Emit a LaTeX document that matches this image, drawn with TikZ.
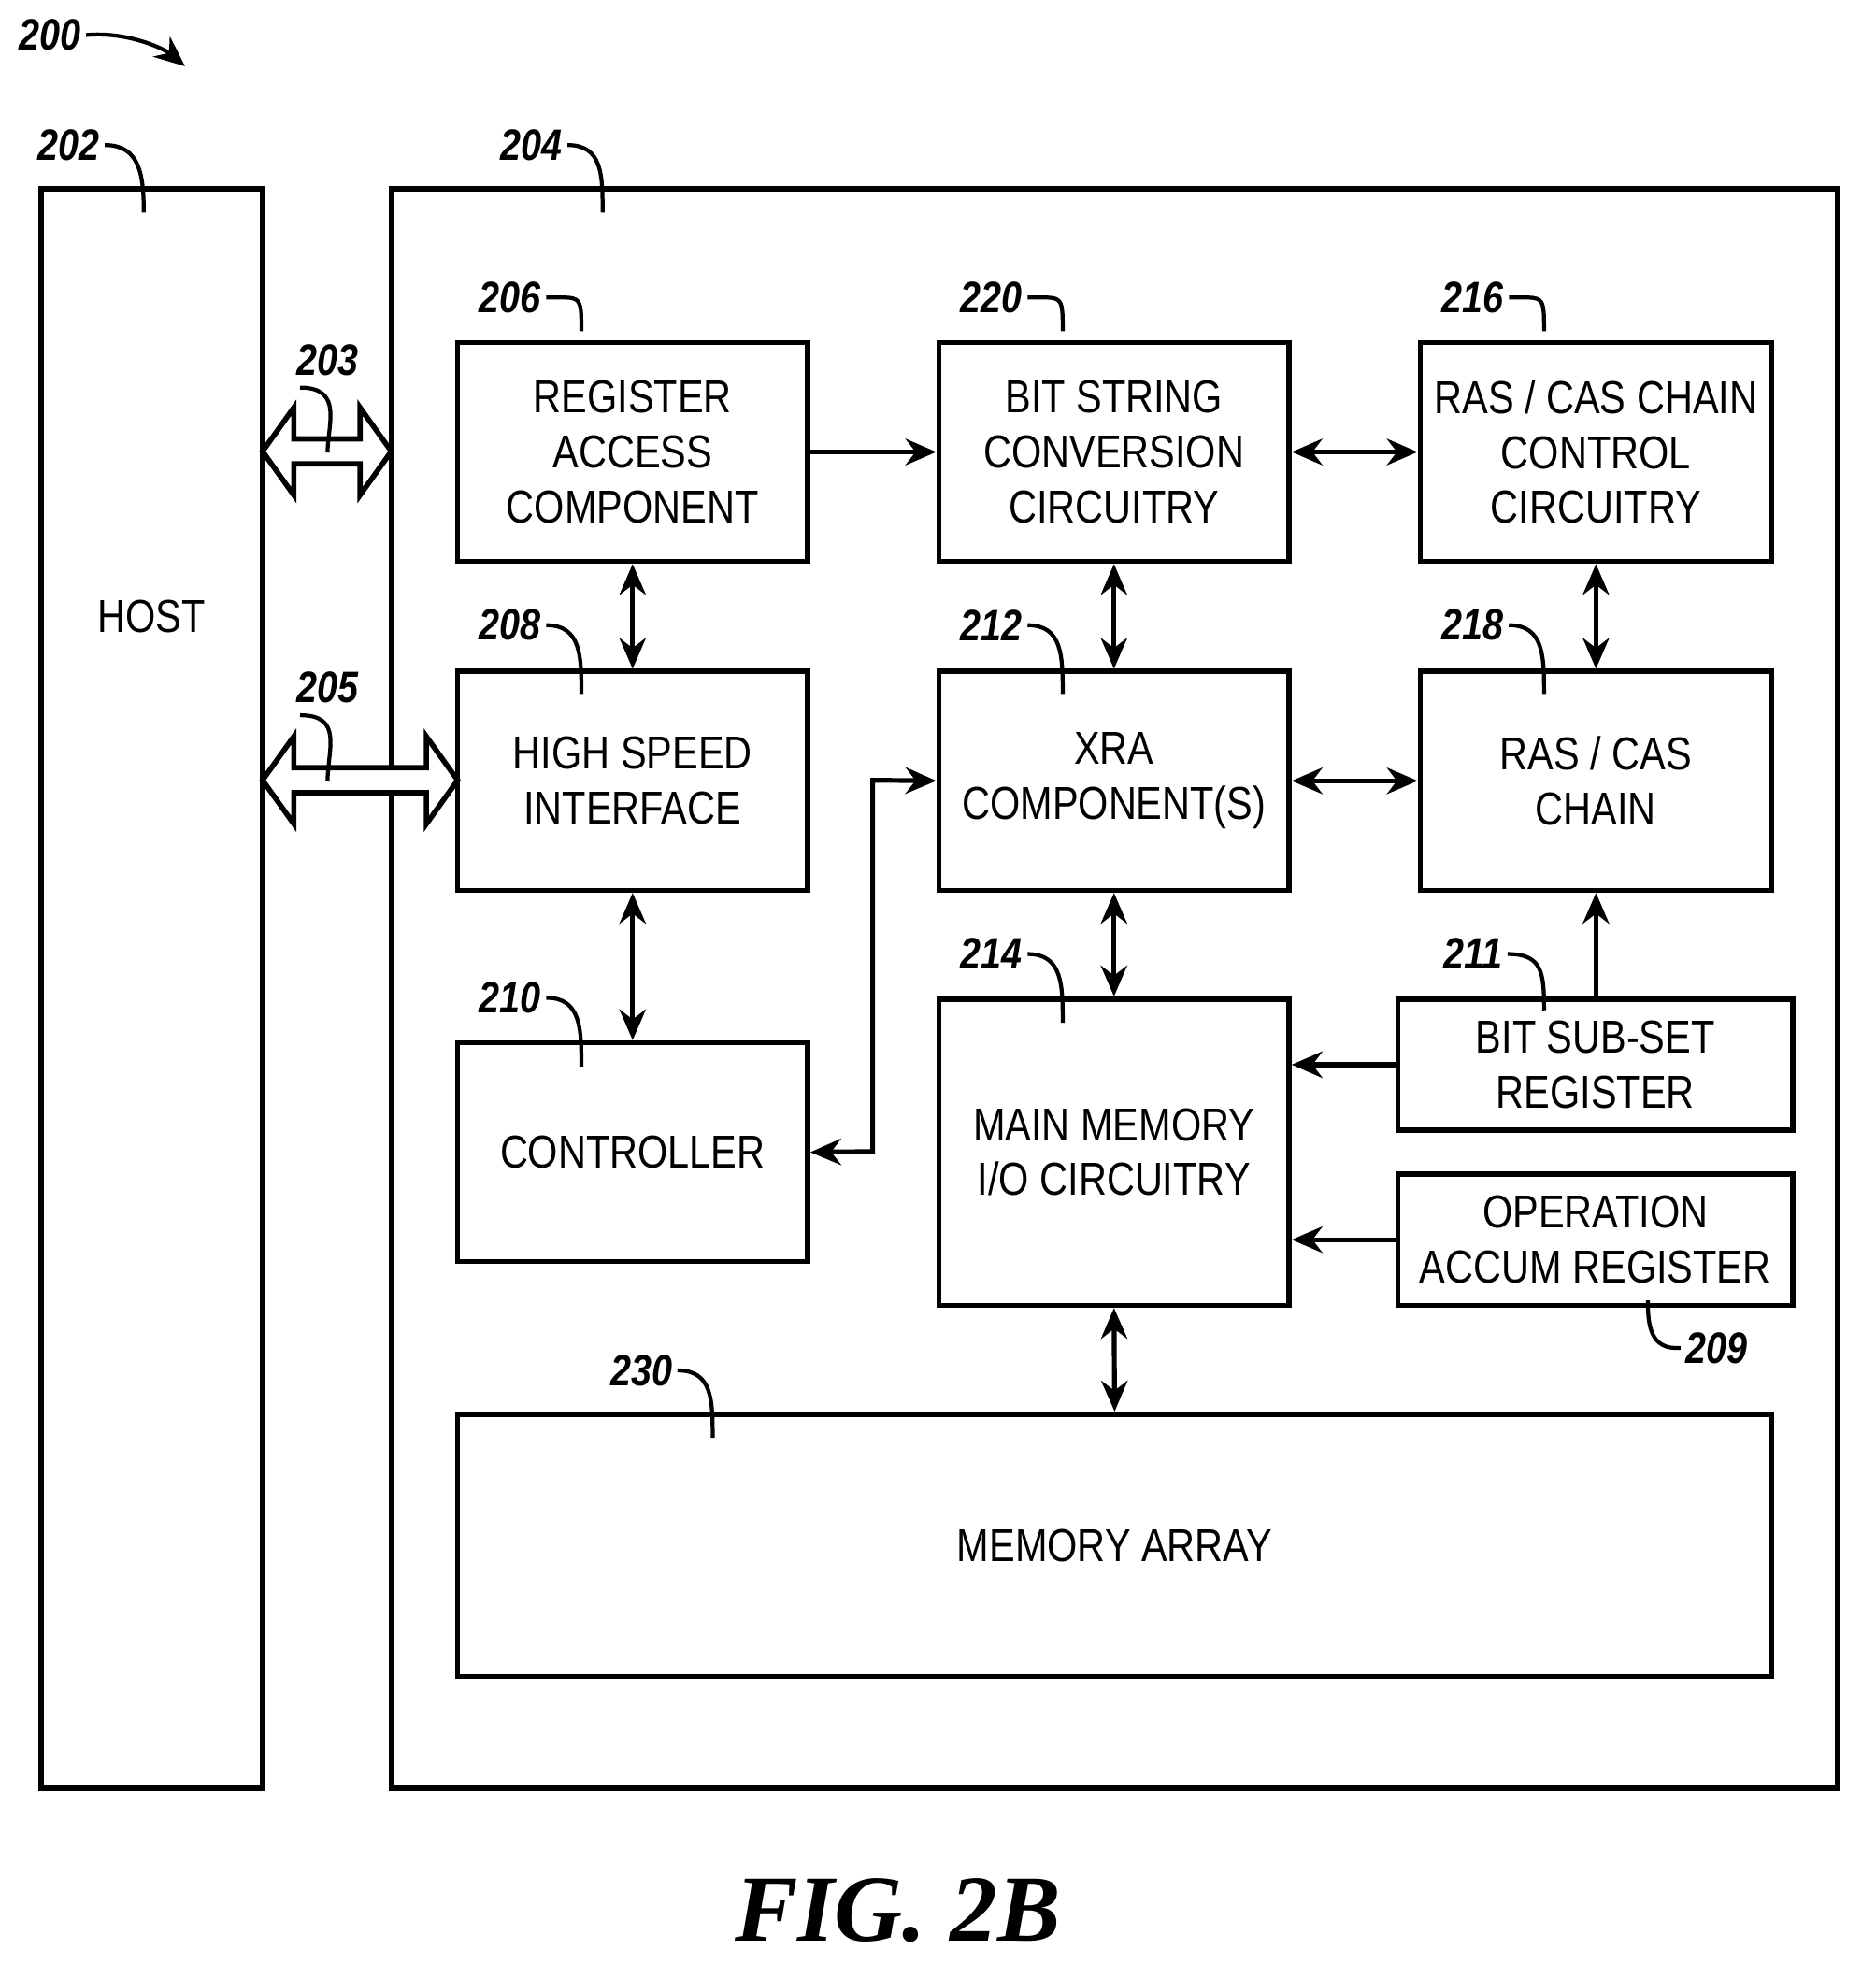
\documentclass[tikz,border=0pt]{standalone}
\usepackage{fontspec}
\setmainfont{Liberation Sans}[FakeStretch=0.84]
\newfontfamily\figfont{Liberation Serif}
\usetikzlibrary{arrows.meta,calc}
\begin{document}
\begin{tikzpicture}[x=0.01cm,y=-0.01cm,
 box/.style={draw,line width=1.2pt,align=center,font=\fontsize{10.5}{12.5}\selectfont},
 con/.style={line width=1.1pt,{Stealth[length=7pt,width=6pt]}-{Stealth[length=7pt,width=6pt]}},
 one/.style={line width=1.1pt,-{Stealth[length=7pt,width=6pt]}},
 lab/.style={font=\bfseries\itshape\fontsize{10}{12}\selectfont,inner sep=1pt},
 lead/.style={line width=0.9pt}]
\useasboundingbox (0,0) rectangle (1500,1582);
\newcommand{\mybox}[6]{\node[box,minimum width={(#4-#2)*0.01cm},minimum height={(#5-#3)*0.01cm},inner sep=0pt] (#1) at ({(#2+#4)/2},{(#3+#5)/2}) {#6};}
\mybox{host}{33}{151}{210}{1430}{}
\node[font=\fontsize{10.5}{12.5}\selectfont] (hostt) at (121,493) {HOST};
\mybox{dev}{313}{151}{1470}{1430}{}
\mybox{rac}{366}{274}{646}{449}{REGISTER\\ACCESS\\COMPONENT}
\mybox{bsc}{751}{274}{1031}{449}{BIT STRING\\CONVERSION\\CIRCUITRY}
\mybox{rcc}{1136}{274}{1417}{449}{RAS / CAS CHAIN\\CONTROL\\CIRCUITRY}
\mybox{hsi}{366}{537}{646}{712}{HIGH SPEED\\INTERFACE}
\mybox{xra}{751}{537}{1031}{712}{XRA\\COMPONENT(S)}
\mybox{rch}{1136}{537}{1417}{712}{RAS / CAS\\CHAIN}
\mybox{ctl}{366}{834}{646}{1009}{CONTROLLER}
\mybox{mm}{751}{799}{1031}{1044}{MAIN MEMORY\\I/O CIRCUITRY}
\mybox{bss}{1118}{799}{1434}{904}{BIT SUB-SET\\REGISTER}
\mybox{oar}{1118}{939}{1434}{1044}{OPERATION\\ACCUM REGISTER}
\mybox{ma}{366}{1131}{1417}{1341}{MEMORY ARRAY}
% connectors
\draw[one] (rac.east) -- (bsc.west);
\draw[con] (bsc.east) -- (rcc.west);
\draw[con] (rac.south) -- (hsi.north);
\draw[con] (bsc.south) -- (xra.north);
\draw[con] (rcc.south) -- (rch.north);
\draw[con] (xra.east) -- (rch.west);
\draw[con] (hsi.south) -- (ctl.north);
\draw[con] (ctl.east) -- (698,921) -- (698,624) -- (xra.west);
\draw[con] (xra.south) -- (mm.north);
\draw[one] (bss.north -| rch.south) -- (rch.south);
\draw[one] (bss.west) -- (mm.east |- bss.west);
\draw[one] (oar.west) -- (mm.east |- oar.west);
\draw[con] (mm.south) -- (ma.north);
% wide arrows
\draw[line width=1.2pt,fill=white] (210,361) -- (235,326) -- (235,351) -- (288,351) -- (288,326) -- (313,361) -- (288,396) -- (288,371) -- (235,371) -- (235,396) -- cycle;
\draw[line width=1.2pt,fill=white] (210,624) -- (235,589) -- (235,614) -- (341,614) -- (341,589) -- (366,624) -- (341,659) -- (341,634) -- (235,634) -- (235,659) -- cycle;
% labels
\node[lab] (l200) at (40,28) {200};
\draw[lead,-{Stealth[length=7pt,width=6pt]}] (l200.east) .. controls (100,25) and (130,38) .. (148,53);
\newcommand{\lbl}[6]{\node[lab] (#1) at (#2,#3) {#4};
 \draw[lead] (#1.east) .. controls ++(28,0) and ($(#5,#6)+(0,-30)$) .. (#5,#6);}
\lbl{l202}{55}{116}{202}{115}{170}
\lbl{l204}{425}{116}{204}{482}{170}
\lbl{l206}{408}{238}{206}{465}{265}
\lbl{l220}{793}{238}{220}{850}{265}
\lbl{l216}{1178}{238}{216}{1235}{265}
\lbl{l208}{408}{500}{208}{465}{555}
\lbl{l212}{793}{500}{212}{850}{555}
\lbl{l218}{1178}{500}{218}{1235}{555}
\lbl{l214}{793}{763}{214}{850}{818}
\lbl{l210}{408}{798}{210}{465}{853}
\lbl{l211}{1178}{763}{211}{1235}{808}
\lbl{l230}{513}{1096}{230}{570}{1150}
\node[lab] (l203) at (262,288) {203};
\draw[lead] (240,310) .. controls (275,310) and (262,340) .. (262,362);
\node[lab] (l205) at (262,550) {205};
\draw[lead] (240,572) .. controls (275,572) and (262,600) .. (262,625);
\node[lab] (l209) at (1373,1078) {209};
\draw[lead] (l209.west) .. controls (1320,1080) and (1318,1060) .. (1318,1040);
\node[font=\figfont\bfseries\itshape\fontsize{21.5}{26}\selectfont] (fig) at (718,1528) {FIG. 2B};
\end{tikzpicture}
\end{document}
